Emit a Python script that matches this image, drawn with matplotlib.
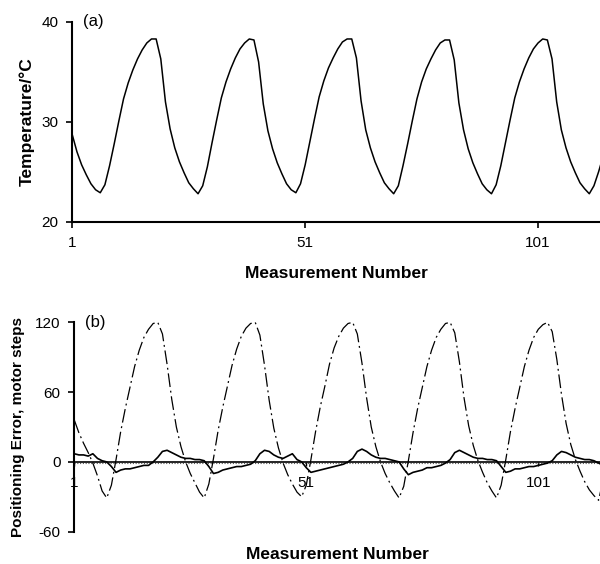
import matplotlib
matplotlib.use("Agg")
from matplotlib import pyplot as plt
import numpy as np

plt.rcParams['font.family'] = ['Liberation Sans', 'DejaVu Sans']
plt.rcParams['axes.unicode_minus'] = False

# measurement index
meas = np.arange(1, 116)

# temperature (deg C), one reading per measurement
temp = [28.7, 27.0, 25.7, 24.7, 23.8, 23.2, 22.9,
        23.7, 25.6, 27.8, 30.1, 32.3, 33.9, 35.2, 36.3, 37.2, 37.9, 38.3, 38.3, 36.3, 32.0, 29.3, 27.4, 26.0, 24.9, 23.9, 23.3, 22.8,
        23.6, 25.5, 27.9, 30.2, 32.4, 34.0, 35.3, 36.4, 37.3, 37.9, 38.3, 38.2, 36.0, 31.8, 29.1, 27.3, 25.9, 24.8, 23.8, 23.2, 22.9,
        23.8, 25.7, 28.0, 30.3, 32.5, 34.1, 35.4, 36.4, 37.3, 38.0, 38.3, 38.3, 36.4, 32.1, 29.2, 27.4, 26.0, 24.9, 23.9, 23.3, 22.8,
        23.6, 25.6, 27.8, 30.1, 32.3, 34.0, 35.3, 36.3, 37.2, 37.9, 38.2, 38.2, 36.2, 31.9, 29.2, 27.3, 25.9, 24.8, 23.8, 23.2, 22.8,
        23.7, 25.6, 27.9, 30.2, 32.4, 34.0, 35.3, 36.4, 37.3, 37.9, 38.3, 38.2, 36.3, 32.0, 29.2, 27.4, 26.0, 24.9, 23.9, 23.3, 22.8,
        23.6, 25.0, 26.6]

# positioning error without compensation (motor steps)
err_raw = [36, 25, 16, 8, -1, -12, -25,
           -31, -20, 2, 26, 46, 64, 82, 96, 107, 114, 119, 120, 110, 84, 54, 30, 13, 0, -10, -18, -26,
           -31, -19, 3, 27, 47, 65, 83, 97, 108, 115, 119, 120, 109, 83, 53, 29, 12, -1, -11, -19, -26,
           -30, -20, 2, 26, 47, 65, 84, 98, 108, 115, 119, 120, 110, 85, 55, 30, 13, 0, -10, -18, -25,
           -31, -21, 1, 25, 46, 64, 82, 96, 107, 114, 119, 120, 111, 86, 55, 31, 14, 1, -9, -18, -25,
           -31, -20, 2, 26, 46, 64, 82, 96, 107, 114, 118, 120, 112, 88, 58, 33, 15, 2, -8, -17, -24,
           -29, -33, -15]

# positioning error with compensation (motor steps)
err_comp = [7, 6, 6, 5, 7, 3, 1,
            0, -4, -9, -7, -6, -6, -5, -4, -3, -3, 0, 4, 9, 10, 8, 6, 4, 3, 3, 2, 2,
            1, -4, -10, -9, -7, -6, -5, -4, -4, -3, -2, 1, 7, 10, 9, 6, 4, 3, 5, 7, 2,
            0, -5, -9, -8, -7, -6, -5, -4, -3, -2, 0, 3, 9, 11, 9, 6, 4, 3, 3, 2, 1,
            0, -6, -11, -9, -8, -7, -5, -5, -4, -3, -1, 2, 8, 10, 8, 6, 4, 3, 3, 2, 2,
            1, -4, -9, -8, -6, -6, -5, -4, -4, -3, -2, -1, 1, 6, 9, 8, 6, 4, 3, 2, 2,
            1, -1, -3]

x_ticks = [1, 51, 101]
x_max = 114.3

fig = plt.figure(figsize=(6.0, 5.64), dpi=100)

# (a) temperature
ax1 = fig.add_axes([0.1205, 0.6069, 0.8795, 0.3541])
ax1.plot(meas[:len(temp)], temp, color='black', lw=1.1)
ax1.set_xlim(1, x_max)
ax1.set_ylim(20, 40)
ax1.set_yticks([20, 30, 40])
ax1.set_xticks(x_ticks)
for s in ['top', 'right']:
    ax1.spines[s].set_visible(False)
for s in ['left', 'bottom']:
    ax1.spines[s].set_linewidth(1.5)
ax1.tick_params(direction='out', length=4, width=1.2, labelsize=11, pad=6)
ax1.set_ylabel("Temperature/°C", fontsize=12.5, fontweight='bold', labelpad=5)
ax1.set_xlabel("Measurement Number", fontsize=12.5, fontweight='bold', labelpad=12)
ax1.text(0.02, 1.0, "(a)", transform=ax1.transAxes, fontsize=12, va='center', ha='left')

# (b) positioning error
ax2 = fig.add_axes([0.1238, 0.0573, 0.8762, 0.3712])
ax2.axhline(-1.2, color='#555555', lw=0.8, ls=(0, (1, 1.5)))
ax2.plot(meas, err_raw, color='black', lw=0.9, dashes=(11, 3, 1.5, 3))
ax2.plot(meas, err_comp, color='black', lw=1.2)
ax2.set_xlim(1, x_max)
ax2.set_ylim(-60, 120)
ax2.set_yticks([-60, 0, 60, 120])
ax2.set_xticks(x_ticks)
ax2.spines['bottom'].set_position(('data', 0))
ax2.spines['bottom'].set_linewidth(1.2)
ax2.spines['left'].set_linewidth(1.5)
for s in ['top', 'right']:
    ax2.spines[s].set_visible(False)
ax2.tick_params(axis='y', direction='out', length=4, width=1.2, labelsize=11, pad=6)
ax2.tick_params(axis='x', direction='out', length=3, width=1.0, labelsize=11, pad=7)
ax2.set_ylabel("Positioning Error, motor steps", fontsize=11, fontweight='bold', labelpad=7)
ax2.set_xlabel("Measurement Number", fontsize=12.5, fontweight='bold')
ax2.xaxis.set_label_coords(0.5, -0.075)
ax2.text(0.02, 1.0, "(b)", transform=ax2.transAxes, fontsize=12, va='center', ha='left')

fig.savefig("out.png", dpi=100)
